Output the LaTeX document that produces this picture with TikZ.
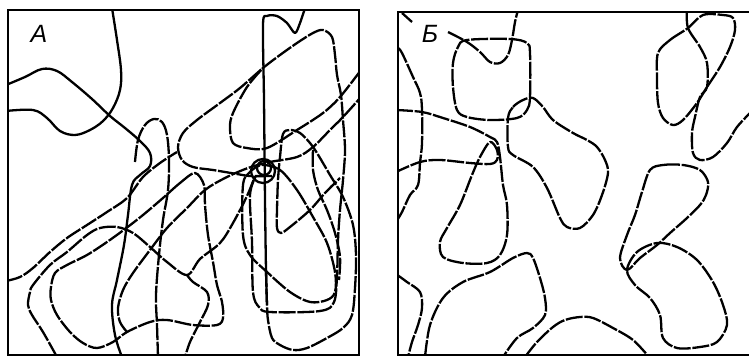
\documentclass[tikz,border=0pt]{standalone}
\usepackage{fontspec}
\setmainfont{Liberation Sans}
\usetikzlibrary{positioning}

\begin{document}
\begin{tikzpicture}[x=1pt,y=-1pt,
      frame/.style={line width=1.4pt,black},
      chain/.style={line width=2.3pt,black,dash pattern=on 17pt off 1.7pt,line join=round},
      chainsolid/.style={line width=2.3pt,black,line join=round},
      lbl/.style={font=\fontsize{25}{25}\selectfont\itshape,inner sep=0pt}]
    \useasboundingbox (0,0) rectangle (749,356);
    % panel frames
    \draw[frame] (8,10) rectangle (359,355);
    \draw[frame] (749,12) -- (398,12) -- (398,355) -- (749,355);
    \node[lbl] (labA) at (39,34) {A};
    \node[lbl] (labB) at (430,34) {Б};
    % panel A
    \begin{scope}
      \clip (8,10) rectangle (359,355);
      \draw[chainsolid] plot[smooth,tension=0.6] coordinates {(112,8) (117,40) (121,70) (120,90) (113,108) (103,121) (90,130) (75,135) (60,131) (47,118) (33,110) (6,111)};
      \draw[chainsolid] plot[smooth,tension=0.6] coordinates {(6,85) (25,77) (42,69) (57,71) (72,82) (92,99) (110,116) (125,128) (140,141) (150,153) (150,166) (140,175) (132,185) (128,215) (124,245) (117,280) (112,305) (115,335) (122,357)};
      \draw[chain] plot[smooth,tension=0.6] coordinates {(135,162) (138,140) (145,125) (154,119) (162,122) (167,135) (169,160) (168,190) (163,220) (159,255) (156,295) (157,325) (158,357)};
      \draw[chain] plot[smooth,tension=0.55] coordinates {(6,281) (20,277) (33,268) (50,252) (67,238) (87,225) (107,212) (127,198) (143,177) (160,163) (177,152)};
      \draw[chain] plot[smooth,tension=0.55] coordinates {(272,176) (250,176) (237,174) (213,170) (193,167) (182,160) (178,147) (183,133) (197,120) (220,103) (240,88) (263,68) (280,55) (297,43) (313,33) (323,30) (332,37) (335,55) (337,75) (341,95) (343,120) (345,150) (343,180) (340,210) (338,240) (337,275) (334,302) (320,311) (270,312) (259,307) (253,292) (252,242) (250,195) (256,176)};
      \draw[chainsolid] plot[smooth,tension=0.5] coordinates {(305,8) (300,23) (295,33) (287,23) (277,16) (267,16) (263,24) (264,100) (265,200) (266,270) (267,305)};
      \draw[chain] plot[smooth,tension=0.55] coordinates {(266,270) (267,305) (268,320) (272,338) (280,345) (293,350) (307,348) (327,338) (343,328) (352,315) (355,288) (356,255) (353,225) (343,197) (330,175) (317,153) (310,143) (300,133) (290,130) (283,134) (280,157) (278,180) (277,210) (277,228) (281,233) (290,227) (310,210) (325,193) (340,178)};
      \draw[chain] plot[smooth,tension=0.55] coordinates {(361,70) (340,97) (323,113) (297,130) (267,148) (247,148) (233,143) (230,127) (233,113) (247,87) (263,68)};
      \draw[chain] plot[smooth,tension=0.55] coordinates {(127,332) (120,322) (118,308) (123,290) (133,273) (150,250) (167,228) (187,208) (205,190) (225,178) (248,168) (270,162) (297,157) (313,147) (330,130) (343,117) (361,97)};
      \draw[chain] plot[smooth,tension=0.55] coordinates {(57,357) (43,332) (32,315) (28,305) (30,292) (33,285) (50,265) (67,252) (87,235) (100,228) (117,227) (133,233) (150,247) (167,262) (187,275) (200,259) (220,243) (233,223) (247,196) (255,176)};
      \draw[chain] plot[smooth,tension=0.55] coordinates {(187,275) (193,282) (207,292) (208,305) (200,322) (190,342) (185,357)};
      \draw[chain] plot[smooth cycle,tension=0.55] coordinates {(195,173) (180,183) (163,198) (143,215) (125,229) (107,242) (87,255) (67,265) (55,273) (51,287) (51,300) (57,315) (70,332) (83,343) (97,348) (113,342) (127,332) (150,322) (167,320) (193,325) (217,325) (223,318) (222,302) (217,285) (213,262) (208,235) (205,205) (204,185)};
      \draw[chain] plot[smooth cycle,tension=0.55] coordinates {(280,170) (297,190) (313,217) (327,243) (335,272) (335,292) (327,300) (310,302) (290,292) (267,272) (250,255) (243,235) (243,185) (250,172) (262,165)};
      \draw[chain] plot[smooth,tension=0.55] coordinates {(313,150) (313,170) (318,190) (327,210) (335,233) (340,257) (339,280)};
      \draw[chainsolid] (264,168) circle[radius=7];
      \draw[chainsolid] (263,171) circle[radius=12];
    \end{scope}
    % panel B
    \begin{scope}
      \clip (398,12) rectangle (749,355);
      \draw[chainsolid] plot[smooth,tension=0.5] coordinates {(402,13) (412,22)};
      \draw[chain] plot[smooth,tension=0.6] coordinates {(398,48) (402,53) (413,77) (420,93) (422,110) (422,143) (420,163) (418,185) (410,195) (402,212) (396,222)};
      \draw[chain] plot[smooth,tension=0.55] coordinates {(396,110) (422,112) (443,118) (470,127) (490,137) (497,142) (500,157) (503,185) (507,205) (507,235) (500,255) (487,263) (463,263) (443,257) (440,242) (447,228) (460,205) (472,175) (480,157) (490,142) (497,150) (497,160) (490,164) (470,163) (440,160) (420,162) (396,172)};
      \draw[chain] plot[smooth cycle,tension=0.55] coordinates {(467,40) (510,39) (527,43) (530,53) (530,97) (527,110) (517,118) (490,120) (467,117) (457,110) (453,87) (453,63) (458,47)};
      \draw[chain] plot[smooth,tension=0.55] coordinates {(448,32) (467,42) (480,52) (490,62) (500,63) (508,55) (512,40) (515,22) (518,10)};
      \draw[chain] plot[smooth cycle,tension=0.55] coordinates {(508,118) (513,107) (523,100) (533,98) (543,107) (553,120) (573,133) (587,140) (597,147) (605,160) (608,173) (602,195) (593,215) (580,228) (567,227) (560,218) (547,188) (533,167) (513,155) (508,147)};
      \draw[chain] plot[smooth,tension=0.55] coordinates {(396,274) (407,282) (420,292) (422,308) (418,325) (412,342) (408,357)};
      \draw[chain] plot[smooth,tension=0.55] coordinates {(425,357) (430,325) (443,298) (463,282) (490,272) (513,258) (527,253) (533,258) (540,278) (545,298) (545,315) (533,328) (517,338) (503,357)};
      \draw[chain] plot[smooth,tension=0.55] coordinates {(525,357) (537,342) (553,327) (565,320) (580,317) (593,318) (613,328) (633,340) (649,357)};
      \draw[chain] plot[smooth cycle,tension=0.55] coordinates {(650,170) (663,165) (683,165) (700,170) (708,182) (706,195) (700,205) (687,218) (670,233) (657,245) (640,258) (627,270) (620,258) (627,235) (635,215) (642,192)};
      \draw[chain] plot[smooth cycle,tension=0.55] coordinates {(627,270) (637,252) (657,243) (677,247) (697,260) (713,282) (723,305) (727,325) (717,342) (700,347) (677,348) (663,338) (660,315) (650,298) (635,285)};
      \draw[chain] plot[smooth cycle,tension=0.55] coordinates {(688,28) (670,40) (658,53) (657,77) (658,103) (663,118) (673,125) (683,120) (697,103) (707,87) (720,67) (730,47) (735,30) (733,18) (723,15) (703,15)};
      \draw[chain] plot[smooth,tension=0.55] coordinates {(687,10) (688,28) (700,47) (707,63) (707,87) (700,97) (695,117) (692,133) (693,153) (700,160) (713,157) (727,143) (737,127) (751,112)};
    \end{scope}
  \end{tikzpicture}
\end{document}
